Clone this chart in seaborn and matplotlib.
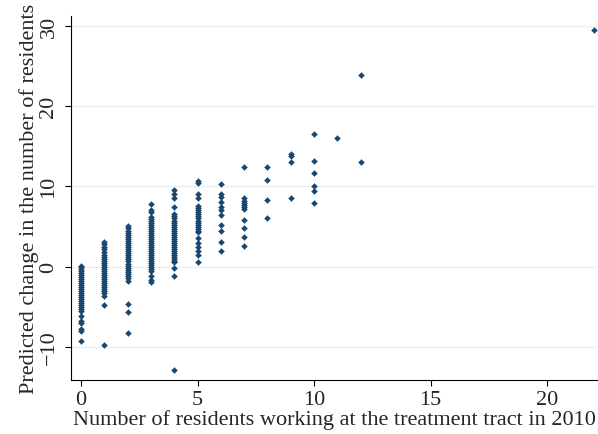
import numpy as np
import pandas as pd
import matplotlib
matplotlib.use('Agg')
import matplotlib.pyplot as plt
import seaborn as sns

sns.set_style('white')
plt.rcParams.update({'font.size': 16, 'font.family': ['Liberation Serif', 'DejaVu Serif']})

# predicted change, by number of residents working at the treatment tract
y_at_0 = [0.1, 0.0, -0.25, -0.5, -0.75, -1.0, -1.25, -1.5, -1.75, -2.0, -2.25, -2.5,
          -2.75, -3.0, -3.25, -3.5, -3.75, -4.0, -4.25, -4.5, -4.75, -5.0, -5.25, -5.5,
          -6.1, -6.75, -7.0, -7.7, -8.0, -9.2]
y_at_1 = [3.1, 2.8, 2.5, 2.2, 1.8, 1.5, 1.25, 1.0, 0.75, 0.5, 0.25, 0.0, -0.25, -0.5,
          -0.75, -1.0, -1.25, -1.5, -1.75, -2.0, -2.25, -2.5, -2.75, -3.0, -3.3, -3.6,
          -4.75, -9.8]
y_at_2 = [5.1, 4.8, 4.5, 4.2, 3.9, 3.65, 3.4, 3.15, 2.9, 2.65, 2.4, 2.15, 1.9, 1.65,
          1.4, 1.15, 0.9, 0.65, 0.4, 0.15, -0.1, -0.35, -0.6, -0.85, -1.1, -1.35, -1.75,
          -4.6, -5.6, -8.2]
y_at_3 = [7.8, 7.0, 6.8, 6.2, 5.95, 5.7, 5.45, 5.2, 4.95, 4.7, 4.45, 4.2, 3.95, 3.7,
          3.45, 3.2, 2.95, 2.7, 2.45, 2.2, 1.95, 1.7, 1.45, 1.2, 0.95, 0.7, 0.45, 0.2,
          -0.05, -0.3, -0.5, -1.1, -1.6, -1.9]
y_at_4 = [9.6, 9.0, 8.55, 7.4, 6.5, 6.25, 6.0, 5.75, 5.5, 5.25, 5.0, 4.75, 4.5, 4.25,
          4.0, 3.75, 3.5, 3.25, 3.0, 2.75, 2.5, 2.25, 2.0, 1.75, 1.5, 1.25, 1.0, 0.75,
          0.55, -0.2, -1.16, -12.8]
y_at_5 = [10.7, 10.4, 9.0, 8.5, 7.5, 7.25, 7.0, 6.75, 6.5, 6.25, 6.0, 5.75, 5.5, 5.25,
          5.0, 4.75, 4.5, 4.3, 3.6, 2.9, 2.4, 1.9, 1.4, 0.6]
y_at_6 = [10.3, 9.0, 8.7, 8.05, 7.4, 7.0, 6.4, 5.2, 4.4, 3.05, 1.96]
y_at_7 = [12.4, 8.5, 8.2, 7.9, 7.7, 7.4, 7.2, 5.8, 4.8, 3.75, 2.6]
y_at_8 = [12.4, 10.75, 8.3, 6.1]
y_at_9 = [14.0, 13.8, 13.0, 8.5]
y_at_10 = [16.5, 13.2, 11.6, 10.1, 9.4, 7.9]
y_at_11 = [16.05]
y_at_12 = [23.8, 13.05]
y_at_22 = [29.4]

columns = {0: y_at_0, 1: y_at_1, 2: y_at_2, 3: y_at_3, 4: y_at_4, 5: y_at_5,
           6: y_at_6, 7: y_at_7, 8: y_at_8, 9: y_at_9, 10: y_at_10, 11: y_at_11,
           12: y_at_12, 22: y_at_22}

df = pd.DataFrame([(k, v) for k, vals in columns.items() for v in vals],
                  columns=['workers', 'pred'])

fig = plt.figure(figsize=(5.98, 4.35), dpi=100)
ax = fig.add_axes([0.1187, 0.124, 0.88, 0.838])

sns.scatterplot(data=df, x='workers', y='pred', marker='D', s=9, color='#1a476f',
                edgecolor='#1a476f', linewidth=0.3, ax=ax, zorder=3)

ax.set_xlim(-0.43, 22.15)
ax.set_ylim(-14.1, 31.25)
ax.set_xticks([0, 5, 10, 15, 20])
ax.set_yticks([-10, 0, 10, 20, 30])
ax.set_yticklabels(['\u221210', '0', '10', '20', '30'], rotation=90, va='center')
ax.grid(axis='y', color='#eaf2f3', linewidth=1.0, zorder=0)
ax.grid(axis='x', visible=False)

for s in ['top', 'right']:
    ax.spines[s].set_visible(False)
for s in ['left', 'bottom']:
    ax.spines[s].set_color('black')
    ax.spines[s].set_linewidth(0.8)
ax.tick_params(axis='both', direction='out', length=4, width=0.8, color='black',
               left=True, bottom=True, labelsize=16)
ax.tick_params(axis='x', pad=3.5)
ax.tick_params(axis='y', pad=5)

ax.set_xlabel('Number of residents working at the treatment tract in 2010', fontsize=16, labelpad=0)
ax.set_ylabel('Predicted change in the number of residents', fontsize=16, labelpad=0)

fig.savefig('out.png', dpi=100)
